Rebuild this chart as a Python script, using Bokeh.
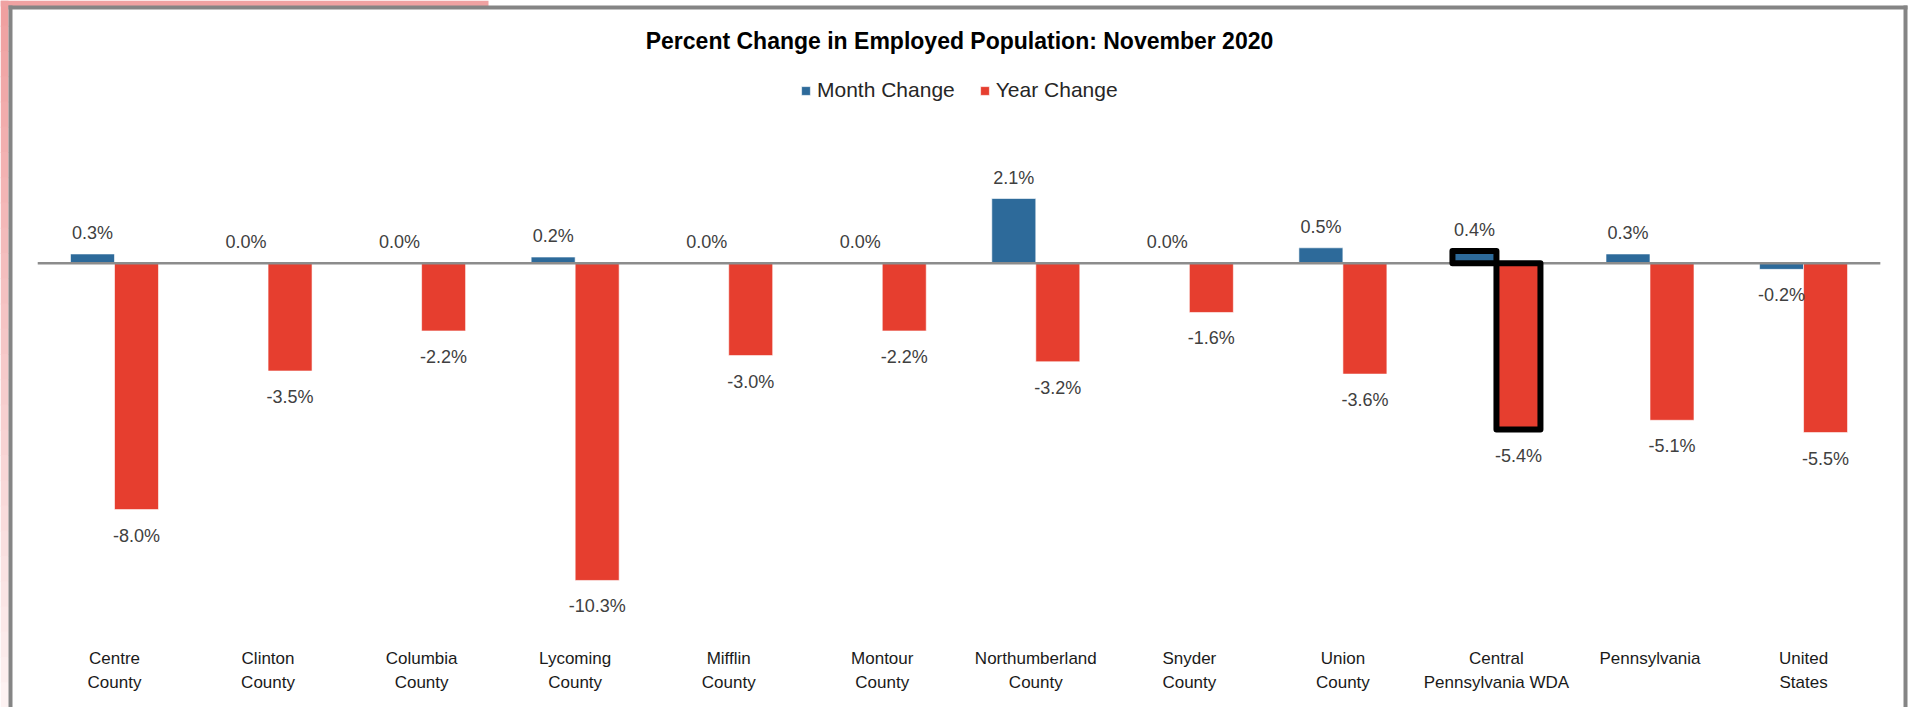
import numpy as np
from bokeh.plotting import figure
from bokeh.models import (ColumnDataSource, Range1d, Label, Legend, LegendItem, BoxAnnotation)
from bokeh.core.properties import value
from bokeh.embed import file_html
from bokeh.resources import INLINE

# ---------------- data ----------------
categories = ["Centre\nCounty", "Clinton\nCounty", "Columbia\nCounty", "Lycoming\nCounty",
              "Mifflin\nCounty", "Montour\nCounty", "Northumberland\nCounty", "Snyder\nCounty",
              "Union\nCounty", "Central\nPennsylvania WDA", "Pennsylvania", "United\nStates"]
month_change = [0.3, 0.0, 0.0, 0.2, 0.0, 0.0, 2.1, 0.0, 0.5, 0.4, 0.3, -0.2]
year_change = [-8.0, -3.5, -2.2, -10.3, -3.0, -2.2, -3.2, -1.6, -3.6, -5.4, -5.1, -5.5]
highlight = "Central\nPennsylvania WDA"
series_names = ["Month Change", "Year Change"]
title_text = "Percent Change in Employed Population: November 2020"

# ---------------- style / layout ----------------
BLUE = "#2D6A9A"
RED = "#E63E2F"
FONT = "Liberation Sans"
W, H = 1910, 707
zero_px = 262.7          # canvas y of the zero line
ppu = 30.8               # pixels per percentage point
cat_px = 153.55          # pixels per category
first_px = 114.0         # canvas x of first category centre
bar_w = 0.2865
bar_off = 0.1433

n = len(categories)
idx = np.arange(n)

def offs(vals):
    # screen offset (positive = downwards) of a data label from the bar end
    return [-21 if v >= 0 else 26 for v in vals]

src = ColumnDataSource(dict(
    xm=idx - bar_off, xy=idx + bar_off, xc=idx,
    cat=categories,
    month=month_change, year=year_change,
    month_lbl=[f"{v:.1f}%" for v in month_change],
    year_lbl=[f"{v:.1f}%" for v in year_change],
    month_off=offs(month_change), year_off=offs(year_change),
))
hi = categories.index(highlight)
src_hi = ColumnDataSource(dict(xm=[hi - bar_off], xy=[hi + bar_off],
                               month=[month_change[hi]], year=[year_change[hi]]))

x_start = -first_px / cat_px
x_end = (W - first_px) / cat_px
p = figure(width=W, height=H,
           x_range=Range1d(x_start, x_end),
           y_range=Range1d(-(H - zero_px) / ppu, zero_px / ppu),
           output_backend="svg", toolbar_location=None,
           x_axis_location=None, y_axis_location=None, min_border=0)
p.outline_line_color = None
p.grid.visible = False
p.background_fill_color = "white"
p.border_fill_color = "white"

# decorative page background (pink strips + gray frame)
bands = 28
for k in range(bands):
    t = k / (bands - 1)
    r = int(0xEF + (0xFD - 0xEF) * t)
    g = int(0xA0 + (0xF2 - 0xA0) * t)
    b = int(0xA0 + (0xF2 - 0xA0) * t)
    col = f"#{r:02X}{g:02X}{b:02X}"
    p.add_layout(BoxAnnotation(left=0, right=8, top=H * k / bands, bottom=H * (k + 1) / bands + 1,
                               left_units="canvas", right_units="canvas", top_units="canvas",
                               bottom_units="canvas", fill_color=col, fill_alpha=1,
                               line_color=None, level="underlay"))
p.add_layout(BoxAnnotation(left=0, right=488, top=0, bottom=6, left_units="canvas",
                           right_units="canvas", top_units="canvas", bottom_units="canvas",
                           fill_color="#EFA2A2", fill_alpha=1, line_color=None, level="underlay"))
for l, r_, t, b in ((8, 12, 5, H), (8, 1907, 5, 9), (1903, 1907, 5, H)):
    p.add_layout(BoxAnnotation(left=l, right=r_, top=t, bottom=b, left_units="canvas",
                               right_units="canvas", top_units="canvas", bottom_units="canvas",
                               fill_color="#858585", fill_alpha=1, line_color=None, level="underlay"))

# bars
r_m = p.vbar(x="xm", top="month", bottom=0, width=bar_w, source=src,
             fill_color=BLUE, line_color="white", line_width=0.6)
r_y = p.vbar(x="xy", top="year", bottom=0, width=bar_w, source=src,
             fill_color=RED, line_color="white", line_width=0.6)

# zero line across the category extent
p.segment(x0=[-0.5], x1=[n - 0.5], y0=[0], y1=[0], line_color="#8C8C8C", line_width=2.5)

# highlighted WDA bars
p.vbar(x="xm", top="month", bottom=0, width=bar_w, source=src_hi,
       fill_color=BLUE, line_color="black", line_width=6, line_join="round")
p.vbar(x="xy", top="year", bottom=0, width=bar_w, source=src_hi,
       fill_color=RED, line_color="black", line_width=6, line_join="round")

# data labels
for xcol, ycol, lbl, o in (("xm", "month", "month_lbl", "month_off"),
                           ("xy", "year", "year_lbl", "year_off")):
    p.text(x=xcol, y=ycol, text=lbl, y_offset=o, source=src, text_align="center",
           text_baseline="middle", text_font=value(FONT), text_font_size="18px",
           text_color="#404040")

# category labels (x axis labels)
cat_label_y = (zero_px - 648) / ppu
p.text(x="xc", y=cat_label_y, text="cat", source=src, text_align="center",
       text_baseline="top", text_font=value(FONT), text_font_size="17px",
       text_line_height=1.3, text_color="#1A1A1A")

# title
p.add_layout(Label(x=959, y=H - 40, x_units="screen", y_units="screen", text=title_text,
                   text_align="center", text_baseline="middle", text_font=FONT,
                   text_font_size="23px", text_font_style="bold", text_color="black"))

# legend
legend = Legend(items=[LegendItem(label=series_names[0], renderers=[r_m]),
                       LegendItem(label=series_names[1], renderers=[r_y])],
                location=(800, 605), orientation="horizontal", margin=0, padding=0,
                spacing=24, label_standoff=6, glyph_width=11, glyph_height=11,
                label_text_font=FONT, label_text_font_size="21px", label_text_color="#262626",
                border_line_color=None, background_fill_alpha=0)
p.add_layout(legend)

open("out.html", "w").write(file_html(p, INLINE))
